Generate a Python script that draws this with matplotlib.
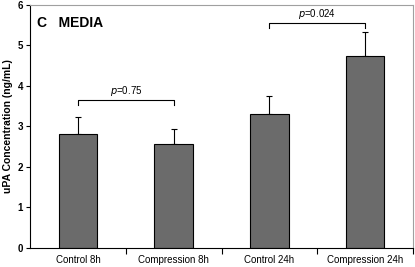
import matplotlib.pyplot as plt
import numpy as np

categories = ['Control 8h', 'Compression 8h', 'Control 24h', 'Compression 24h']
values = [2.81, 2.57, 3.31, 4.74]
errors = [0.42, 0.36, 0.43, 0.59]
pvals = ['0.75', '0.024']

plt.rcParams['font.family'] = 'Liberation Sans'

fig = plt.figure(figsize=(4.15, 2.67), dpi=100)
ax = fig.add_axes([0.0723, 0.071, 0.923, 0.912])

x = np.arange(len(categories))
ax.bar(x, values, width=0.4, color='#6b6b6b', edgecolor='black', linewidth=0.8, zorder=2)
ax.errorbar(x, values, yerr=[np.zeros(4), errors], fmt='none', ecolor='black',
            elinewidth=0.8, capsize=2, capthick=0.8, zorder=1)

# significance brackets
for (i, j), p, y in zip([(0, 1), (2, 3)], pvals, [3.65, 5.55]):
    ax.plot([x[i], x[i], x[j], x[j]], [y - 0.12, y, y, y - 0.12], color='black', lw=0.8)
    ax.text((x[i] + x[j]) / 2, y + 0.04, r'$\it{p}$=' + p, ha='center', va='bottom', fontsize=7)

ax.text(-0.43, 5.55, 'C   MEDIA', fontsize=10, fontweight='bold', va='center')

ax.set_xlim(-0.5, 3.5)
ax.set_ylim(0, 6)
ax.set_yticks(range(7))
ax.set_ylabel('uPA Concentration (ng/mL)', fontsize=7.5, fontweight='bold', labelpad=3)
ax.set_xticks(x)
ax.set_xticklabels(categories, fontsize=7)
ax.tick_params(axis='x', length=0, pad=5)
ax.set_xticks(np.arange(0.5, 4, 1), minor=True)
ax.tick_params(axis='x', which='minor', length=4, width=0.8, direction='out')
ax.tick_params(axis='y', length=3, width=0.8, labelsize=7, pad=2)
for lab in ax.get_yticklabels():
    lab.set_fontweight('bold')
for s in ['top', 'right']:
    ax.spines[s].set_color('#a0a0a0')
    ax.spines[s].set_linewidth(0.8)
for s in ['left', 'bottom']:
    ax.spines[s].set_linewidth(0.8)

fig.savefig('out.png', dpi=100)
